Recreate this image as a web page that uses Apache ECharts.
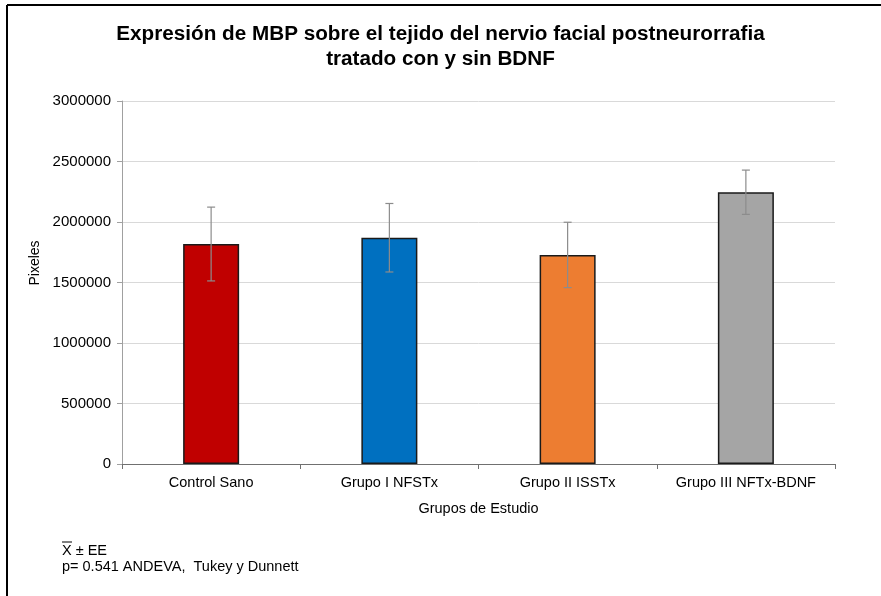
<!DOCTYPE html>
<html>
<head>
<meta charset="utf-8">
<title>Expresión de MBP</title>
<script src="https://cdn.jsdelivr.net/npm/echarts@6/dist/echarts.min.js"></script>
<style>
  html, body { margin: 0; padding: 0; background: #ffffff; }
  #chart { width: 881px; height: 596px; }
</style>
</head>
<body>
<div id="chart"></div>
<script>
// Study groups and MBP expression (mean pixel counts with standard error)
const categories = ['Control Sano', 'Grupo I NFSTx', 'Grupo II ISSTx', 'Grupo III NFTx-BDNF'];
const meanValues = [1818000, 1870000, 1728000, 2246000];
const stdErrors = [305000, 283000, 270000, 183000];
const barColors = ['#C00000', '#0070C0', '#ED7D31', '#A5A5A5'];
const yTicks = { min: 0, max: 3000000, interval: 500000 };

const FONT = '"Liberation Sans", Arial, sans-serif';

const chart = echarts.init(document.getElementById('chart'), null, { renderer: 'canvas' });

const errorData = meanValues.map((m, i) => [i, m - stdErrors[i], m + stdErrors[i]]);

chart.setOption({
  animation: false,
  backgroundColor: '#ffffff',
  title: {
    text: 'Expresión de MBP sobre el tejido del nervio facial postneurorrafia\ntratado con y sin BDNF',
    left: 'center',
    top: 17,
    textStyle: {
      fontFamily: FONT,
      fontSize: 20.7,
      fontWeight: 'bold',
      color: '#000000',
      lineHeight: 25
    }
  },
  grid: { left: 122, right: 46, top: 101, bottom: 132, containLabel: false },
  xAxis: {
    type: 'category',
    data: categories,
    name: 'Grupos de Estudio',
    nameLocation: 'middle',
    nameGap: 37,
    nameTextStyle: { fontFamily: FONT, fontSize: 14.5, color: '#000000', verticalAlign: 'top' },
    axisLine: { lineStyle: { color: '#707070', width: 1 } },
    axisTick: { show: true, length: 5, inside: false, interval: 0, lineStyle: { color: '#707070' } },
    axisLabel: { fontFamily: FONT, fontSize: 14.5, color: '#000000', margin: 11, interval: 0 },
    splitLine: { show: false }
  },
  yAxis: {
    type: 'value',
    min: yTicks.min,
    max: yTicks.max,
    interval: yTicks.interval,
    axisLine: { show: true, lineStyle: { color: '#a0a0a0', width: 1 } },
    axisTick: { show: true, length: 5, lineStyle: { color: '#a0a0a0' } },
    axisLabel: {
      fontFamily: FONT, fontSize: 15, color: '#000000', margin: 11,
      formatter: function (v) { return String(v); }
    },
    splitLine: { show: true, lineStyle: { color: '#d9d9d9', width: 1 } }
  },
  series: [
    {
      type: 'bar',
      data: meanValues.map((v, i) => ({
        value: v,
        itemStyle: { color: barColors[i], borderColor: '#1a1a1a', borderWidth: 1.5 }
      })),
      barWidth: 56,
      z: 2
    },
    {
      type: 'custom',
      data: errorData,
      z: 3,
      renderItem: function (params, api) {
        const x = api.value(0);
        const lo = api.coord([x, api.value(1)]);
        const hi = api.coord([x, api.value(2)]);
        const cap = 4;
        const style = { stroke: '#8c8c8c', lineWidth: 1.2 };
        return {
          type: 'group',
          children: [
            { type: 'line', shape: { x1: hi[0], y1: hi[1], x2: lo[0], y2: lo[1] }, style: style },
            { type: 'line', shape: { x1: hi[0] - cap, y1: hi[1], x2: hi[0] + cap, y2: hi[1] }, style: style },
            { type: 'line', shape: { x1: lo[0] - cap, y1: lo[1], x2: lo[0] + cap, y2: lo[1] }, style: style }
          ]
        };
      }
    }
  ],
  graphic: [
    // frame along the top and left edges
    { type: 'line', shape: { x1: 7, y1: 5, x2: 881, y2: 5 }, style: { stroke: '#000000', lineWidth: 2 } },
    { type: 'line', shape: { x1: 7, y1: 5, x2: 7, y2: 596 }, style: { stroke: '#000000', lineWidth: 2 } },
    // y-axis title
    {
      type: 'text',
      x: 35, y: 263,
      rotation: Math.PI / 2,
      style: {
        text: 'Pixeles',
        fontFamily: FONT, fontSize: 14, fill: '#000000',
        align: 'center', verticalAlign: 'middle'
      }
    },
    // statistics note
    {
      type: 'text',
      x: 62, y: 551,
      style: {
        text: 'X ± EE',
        fontFamily: FONT, fontSize: 14.5, fill: '#000000',
        align: 'left', verticalAlign: 'middle'
      }
    },
    { type: 'line', shape: { x1: 62, y1: 542, x2: 72, y2: 542 }, style: { stroke: '#000000', lineWidth: 1 } },
    {
      type: 'text',
      x: 62, y: 567,
      style: {
        text: 'p= 0.541 ANDEVA,  Tukey y Dunnett',
        fontFamily: FONT, fontSize: 14.5, fill: '#000000',
        align: 'left', verticalAlign: 'middle'
      }
    }
  ]
});
</script>
</body>
</html>
